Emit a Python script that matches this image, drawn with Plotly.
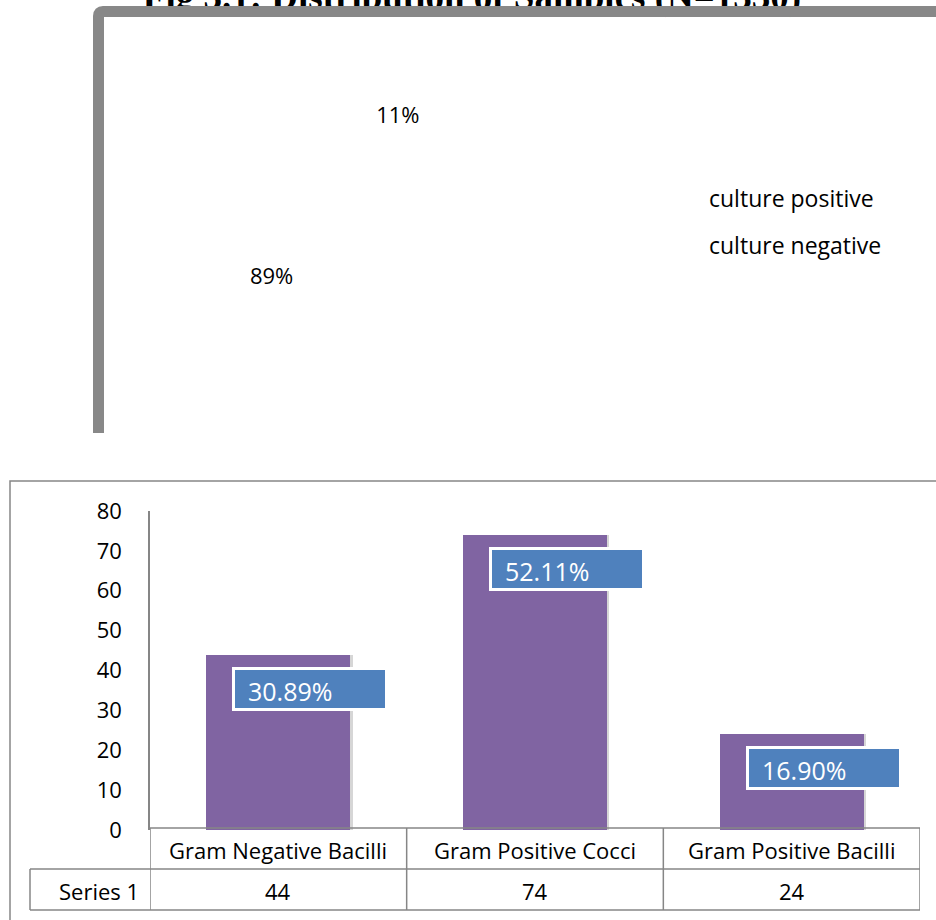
import plotly.graph_objects as go

W, H = 936, 920

# ---------------- data ----------------
title_text = "Fig 3.1: Distribution of Samples (N=1330)"
pie_labels = ["culture positive", "culture negative"]
pie_values = [142, 1188]

categories = ["Gram Negative Bacilli", "Gram Positive Cocci", "Gram Positive Bacilli"]
series_name = "Series 1"
bar_values = [44, 74, 24]
pct_labels = ["30.89%", "52.11%", "16.90%"]
y_ticks = [0, 10, 20, 30, 40, 50, 60, 70, 80]

# ---------------- style ----------------
FONT = "Open Sans"
BAR_COLOR = "#8064A2"
LABEL_COLOR = "#4F81BD"
LINE = "#868686"
FRAME = "#888888"


def py(p):
    return 1 - p / H


def px(p):
    return p / W


fig = go.Figure()

# pie (white slices, only the labels show)
PCX, PCY, PR = 322, 210.5, 163
fig.add_trace(go.Pie(
    labels=pie_labels, values=pie_values, sort=False, direction="clockwise", rotation=19,
    marker=dict(colors=["white", "white"], line=dict(color="white", width=0)),
    texttemplate="%{percent:.0%}", textposition="inside", insidetextorientation="horizontal",
    textfont=dict(family=FONT, size=22, color="black"),
    domain=dict(x=[px(PCX - PR), px(PCX + PR)], y=[py(PCY + PR), py(PCY - PR)]),
    showlegend=False, hoverinfo="label+percent",
))

# legend entries of the pie
for lab in pie_labels:
    fig.add_trace(go.Scatter(
        x=[None], y=[None], mode="markers", name=lab, legendgroup=lab,
        marker=dict(color="white", size=1), xaxis="x2", yaxis="y2", hoverinfo="skip",
    ))

# title (drawn as text on the pixel overlay, so the frame covers it)
fig.add_trace(go.Scatter(
    x=[472], y=[0], mode="text", text=["<b>" + title_text + "</b>"],
    textfont=dict(family="Liberation Serif", size=37, color="black"),
    textposition="middle center", cliponaxis=False, showlegend=False,
    xaxis="x2", yaxis="y2", hoverinfo="skip",
))

# bar shadow + bars
fig.add_trace(go.Bar(
    x=categories, y=bar_values, marker=dict(color="#d6d6d6", line=dict(width=0)),
    width=0.56, offset=-0.27, showlegend=False, hoverinfo="skip",
))
fig.add_trace(go.Bar(
    x=categories, y=bar_values, name=series_name, marker=dict(color=BAR_COLOR, line=dict(width=0)),
    width=0.56, offset=-0.28, showlegend=False,
))

# data labels
for c, v, t in zip(categories, bar_values, pct_labels):
    fig.add_annotation(
        x=c, y=v, xref="x", yref="y", text="\u00a0\u00a0" + t, showarrow=False,
        xanchor="left", yanchor="top", xshift=-46, yshift=-12,
        width=150, height=38, align="left", valign="bottom",
        bgcolor=LABEL_COLOR, bordercolor="white", borderwidth=3, borderpad=0,
        font=dict(family=FONT, size=25, color="white"),
    )

# data table text
for c, v in zip(categories, bar_values):
    fig.add_annotation(x=c, y=850, xref="x", yref="y2", text=c, showarrow=False,
                       font=dict(family=FONT, size=22, color="black"))
    fig.add_annotation(x=c, y=891, xref="x", yref="y2", text=str(v), showarrow=False,
                       font=dict(family=FONT, size=22, color="black"))
fig.add_annotation(x=99, y=891, xref="x2", yref="y2", text=series_name, showarrow=False,
                   font=dict(family=FONT, size=22, color="black"))

shapes = []
# bottom chart outer border
shapes.append(dict(type="rect", xref="x2", yref="y2", x0=10, x1=960, y0=481, y1=960,
                   line=dict(color=LINE, width=1.5), layer="below"))
# table lines
for yy, x0 in [(828, 150), (869, 30), (910, 30)]:
    shapes.append(dict(type="line", xref="x2", yref="y2", x0=x0, x1=920, y0=yy, y1=yy,
                       line=dict(color=LINE, width=1.5)))
for xb in [-0.5, 0.5, 1.5, 2.5]:
    shapes.append(dict(type="line", xref="x", yref="y2", x0=xb, x1=xb, y0=828, y1=910,
                       line=dict(color=LINE, width=1.5)))
shapes.append(dict(type="line", xref="x2", yref="y2", x0=30, x1=30, y0=869, y1=910,
                   line=dict(color=LINE, width=1.5)))
# top chart thick frame (over the title)
shapes.append(dict(type="path", xref="x2", yref="y2",
                   path="M 98.5 433 L 98.5 16 Q 98.5 11.5 103 11.5 L 950 11.5",
                   line=dict(color=FRAME, width=11), layer="above"))

fig.update_layout(
    width=W, height=H, autosize=False,
    margin=dict(l=0, r=0, t=0, b=0, pad=0, autoexpand=False),
    paper_bgcolor="white", plot_bgcolor="rgba(0,0,0,0)",
    barmode="overlay", bargap=0,
    shapes=shapes,
    showlegend=True,
    legend=dict(x=px(669), y=py(177), xanchor="left", yanchor="top",
                font=dict(family=FONT, size=23, color="black"),
                tracegroupgap=14, bgcolor="rgba(0,0,0,0)", itemclick=False),
    xaxis=dict(domain=[px(150), px(920)], range=[-0.5, 2.5], showticklabels=False,
               showline=False, showgrid=False, zeroline=False, anchor="y", fixedrange=True),
    yaxis=dict(domain=[py(830), py(511)], range=[0, 80], tickvals=y_ticks,
               showline=True, linecolor=LINE, linewidth=1.5, ticks="", showgrid=False,
               zeroline=False, ticklabelstandoff=22, anchor="x",
               tickfont=dict(family=FONT, size=22, color="black"), fixedrange=True),
    xaxis2=dict(domain=[0, 1], range=[0, W], visible=False, anchor="y2", fixedrange=True),
    yaxis2=dict(domain=[0, 1], range=[H, 0], visible=False, anchor="x2", fixedrange=True),
)

fig.write_html("out.html", config={"displayModeBar": False},
               post_script="document.body.style.margin='0';")
